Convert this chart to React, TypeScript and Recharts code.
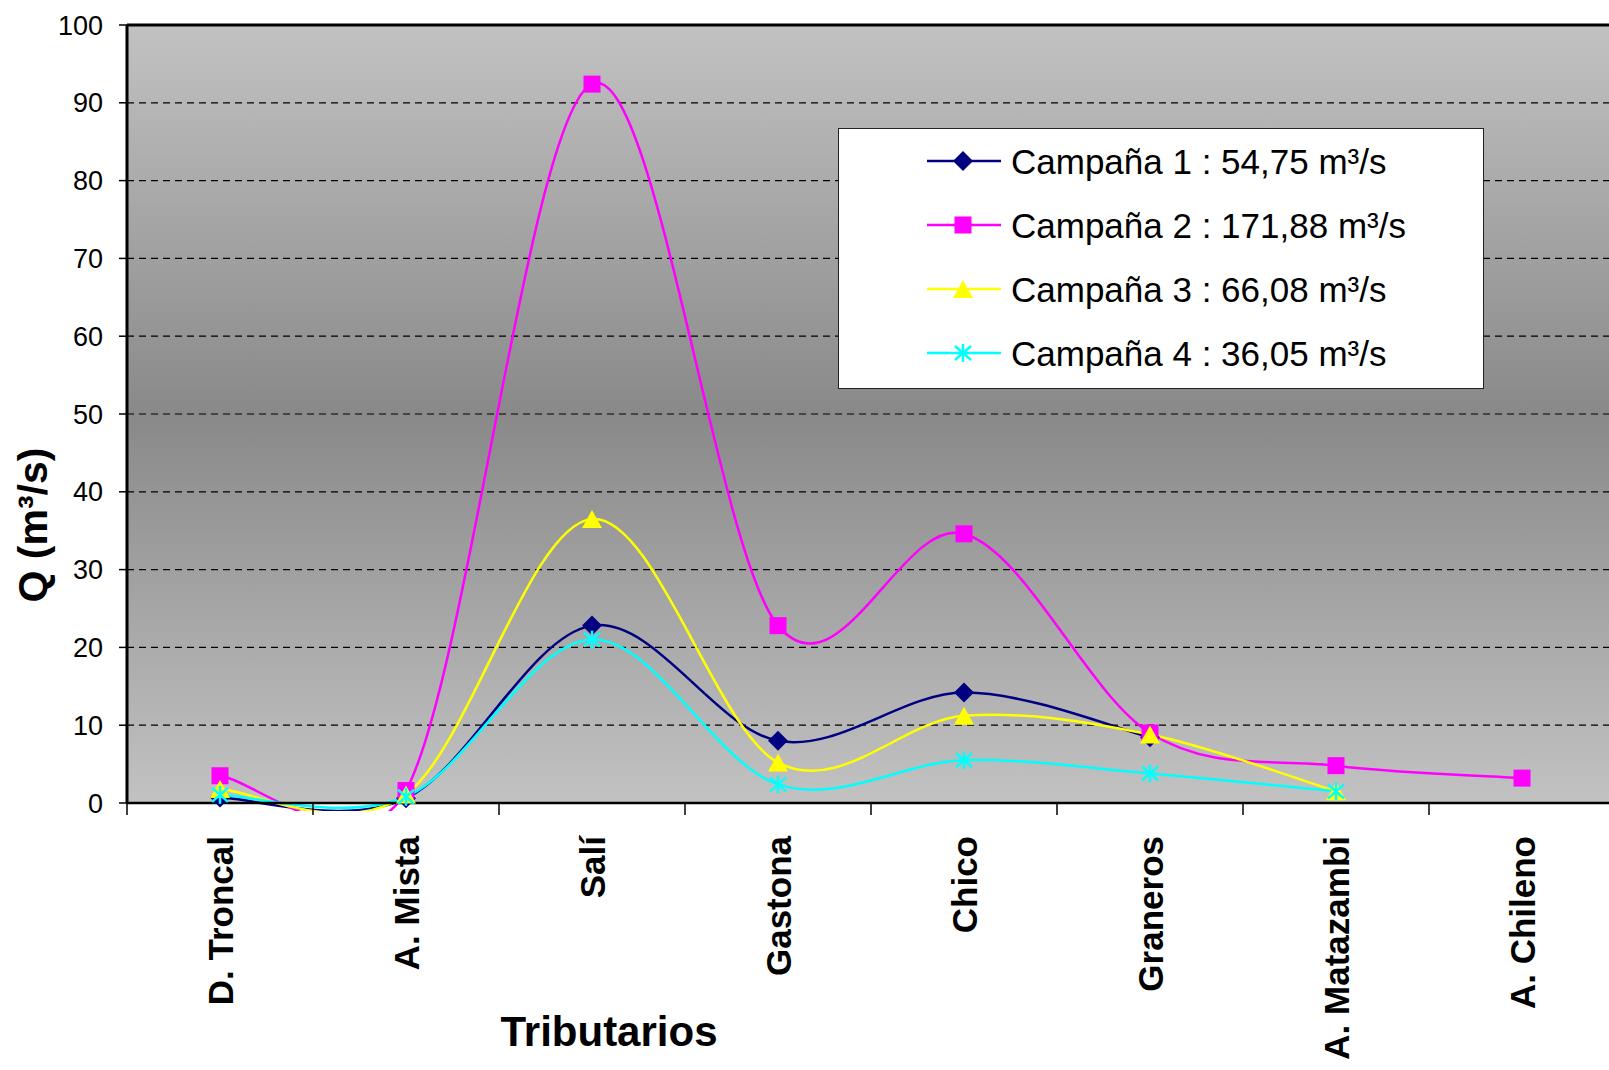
import React from "react";
import { LineChart, Line, XAxis, YAxis, CartesianGrid, ReferenceLine } from "recharts";

const tributarios = [
  "D. Troncal",
  "A. Mista",
  "Salí",
  "Gastona",
  "Chico",
  "Graneros",
  "A. Matazambi",
  "A. Chileno",
];

// caudal por campaña (m³/s); null = sin medición
const campana1 = [0.7, 0.6, 22.8, 8.0, 14.2, 8.45, null, null];
const campana2 = [3.5, 1.6, 92.4, 22.8, 34.6, 9.0, 4.8, 3.2];
const campana3 = [1.8, 1.1, 36.5, 5.2, 11.2, 8.8, 1.5, null];
const campana4 = [1.05, 0.8, 21.0, 2.4, 5.5, 3.8, 1.5, null];

const yTicks = [0, 10, 20, 30, 40, 50, 60, 70, 80, 90, 100];

const seriesNames = [
  "Campaña 1 : 54,75 m³/s",
  "Campaña 2 : 171,88 m³/s",
  "Campaña 3 : 66,08 m³/s",
  "Campaña 4 : 36,05 m³/s",
];

type Shape = "diamond" | "square" | "triangle" | "star";

const series: { key: string; color: string; shape: Shape }[] = [
  { key: "c1", color: "#000080", shape: "diamond" },
  { key: "c2", color: "#FF00FF", shape: "square" },
  { key: "c3", color: "#FFFF00", shape: "triangle" },
  { key: "c4", color: "#00FFFF", shape: "star" },
];

const data = tributarios.map((name, i) => ({
  name,
  c1: campana1[i],
  c2: campana2[i],
  c3: campana3[i],
  c4: campana4[i],
}));

const FONT = '"Liberation Sans", Arial, Helvetica, sans-serif';
const FRAME_W = 1609;
const FRAME_H = 1070;
const CHART_W = 1615; // plot runs a little past the right edge of the frame
const AXIS_W = 127;
const TOP = 25;
const X_AXIS_H = 267;
const PLOT_BOTTOM = FRAME_H - X_AXIS_H;
const HALF_BAND = (CHART_W - AXIS_W) / tributarios.length / 2;

// Excel-style smoothed line: bezier segments with 1/6 tangents,
// control arm capped at half the segment length to limit overshoot
function excelSmooth(context: any) {
  let pts: [number, number][] = [];
  const dist = (a: [number, number], b: [number, number]) => Math.hypot(a[0] - b[0], a[1] - b[1]);
  return {
    areaStart() {},
    areaEnd() {},
    lineStart() {
      pts = [];
    },
    point(x: number, y: number) {
      pts.push([+x, +y]);
    },
    lineEnd() {
      const n = pts.length;
      if (!n) return;
      context.moveTo(pts[0][0], pts[0][1]);
      for (let i = 0; i < n - 1; i++) {
        const p0 = pts[Math.max(i - 1, 0)];
        const p1 = pts[i];
        const p2 = pts[i + 1];
        const p3 = pts[Math.min(i + 2, n - 1)];
        const d12 = dist(p1, p2);
        const d02 = dist(p0, p2);
        const d13 = dist(p1, p3);
        const f1 = d02 / 6 < d12 / 2 ? 1 / 6 : d12 / (2 * d02);
        const f2 = d13 / 6 < d12 / 2 ? 1 / 6 : d12 / (2 * d13);
        context.bezierCurveTo(
          p1[0] + (p2[0] - p0[0]) * f1,
          p1[1] + (p2[1] - p0[1]) * f1,
          p2[0] - (p3[0] - p1[0]) * f2,
          p2[1] - (p3[1] - p1[1]) * f2,
          p2[0],
          p2[1]
        );
      }
    },
  };
}

function Marker({ shape, cx, cy, color }: { shape: Shape; cx: number; cy: number; color: string }) {
  switch (shape) {
    case "diamond":
      return <polygon points={`${cx},${cy - 10} ${cx + 10},${cy} ${cx},${cy + 10} ${cx - 10},${cy}`} fill={color} />;
    case "square":
      return <rect x={cx - 8.5} y={cy - 8.5} width={17} height={17} fill={color} />;
    case "triangle":
      return <polygon points={`${cx},${cy - 9} ${cx + 10},${cy + 9} ${cx - 10},${cy + 9}`} fill={color} />;
    default:
      return (
        <g stroke={color} strokeWidth={2.5}>
          <line x1={cx} y1={cy - 9} x2={cx} y2={cy + 9} />
          <line x1={cx - 8} y1={cy - 7} x2={cx + 8} y2={cy + 7} />
          <line x1={cx - 8} y1={cy + 7} x2={cx + 8} y2={cy - 7} />
        </g>
      );
  }
}

function TributarioTick(props: any) {
  const { x, y, payload } = props;
  const half = payload.offset || HALF_BAND;
  return (
    <g>
      <line x1={x - half} x2={x - half} y1={y} y2={y + 12} stroke="#000" strokeWidth={1.5} />
      <text
        transform={`translate(${x},${y + 33}) rotate(-90)`}
        textAnchor="end"
        dominantBaseline="central"
        fontSize={35}
        fontWeight="bold"
        fontFamily={FONT}
        fill="#000"
      >
        {payload.value}
      </text>
    </g>
  );
}

function Leyenda() {
  return (
    <div
      style={{
        position: "absolute",
        left: 838,
        top: 128,
        width: 646,
        height: 261,
        background: "#fff",
        border: "1.5px solid #222",
        boxSizing: "border-box",
      }}
    >
      {series.map((s, i) => (
        <div
          key={s.key}
          style={{
            position: "absolute",
            left: 88,
            top: i * 64,
            height: 64,
            display: "flex",
            alignItems: "center",
          }}
        >
          <svg width={74} height={24} style={{ display: "block" }}>
            <line x1={0} x2={74} y1={12} y2={12} stroke={s.color} strokeWidth={2.5} />
            <Marker shape={s.shape} cx={36} cy={12} color={s.color} />
          </svg>
          <span
            style={{
              marginLeft: 10,
              fontSize: 35,
              fontFamily: FONT,
              lineHeight: 1,
              whiteSpace: "nowrap",
              color: "#000",
            }}
          >
            {seriesNames[i]}
          </span>
        </div>
      ))}
    </div>
  );
}

export default function App() {
  return (
    <div
      style={{
        position: "absolute",
        left: 0,
        top: 0,
        width: FRAME_W,
        height: FRAME_H,
        overflow: "hidden",
        background: "#fff",
      }}
    >
      <style>{`.tributario-line .recharts-line-curve { clip-path: url(#bajoEje); }`}</style>
      <LineChart
        width={CHART_W}
        height={FRAME_H}
        data={data}
        margin={{ top: TOP, right: 0, bottom: 0, left: 0 }}
      >
        <defs>
          <linearGradient id="fondoPlot" x1="0" y1="0" x2="0" y2="1">
            <stop offset="0%" stopColor="#c2c2c2" />
            <stop offset="50%" stopColor="#898989" />
            <stop offset="100%" stopColor="#c2c2c2" />
          </linearGradient>
          <clipPath id="bajoEje">
            <rect x={0} y={0} width={CHART_W} height={PLOT_BOTTOM + 8} />
          </clipPath>
        </defs>
        <CartesianGrid
          vertical={false}
          fill="url(#fondoPlot)"
          fillOpacity={1}
          stroke="#000"
          strokeDasharray="7 5"
          strokeWidth={1.2}
        />
        <XAxis
          dataKey="name"
          scale="band"
          height={X_AXIS_H}
          interval={0}
          tickLine={false}
          tickSize={0}
          tickMargin={0}
          axisLine={{ stroke: "#000", strokeWidth: 2.5 }}
          tick={<TributarioTick />}
        />
        <YAxis
          width={AXIS_W}
          domain={[0, 100]}
          ticks={yTicks}
          interval={0}
          tickSize={8}
          tickMargin={16}
          tickLine={{ stroke: "#000", strokeWidth: 1.5 }}
          axisLine={{ stroke: "#000", strokeWidth: 3 }}
          tick={{ fill: "#000", fontSize: 27, fontFamily: FONT }}
        />
        <ReferenceLine y={100} stroke="#000" strokeWidth={3} />
        {series.map((s) => (
          <Line
            key={s.key}
            className="tributario-line"
            dataKey={s.key}
            type={excelSmooth as any}
            stroke={s.color}
            strokeWidth={2.5}
            activeDot={false}
            isAnimationActive={false}
            dot={(p: any) =>
              p.cy == null || p.value == null ? (
                <g key={`${s.key}-${p.index}`} />
              ) : (
                <Marker key={`${s.key}-${p.index}`} shape={s.shape} cx={p.cx} cy={p.cy} color={s.color} />
              )
            }
          />
        ))}
        <text
          transform="translate(47,525) rotate(-90)"
          textAnchor="middle"
          fontSize={41}
          fontWeight="bold"
          fontFamily={FONT}
          fill="#000"
        >
          Q (m³/s)
        </text>
        <text x={609} y={1046} textAnchor="middle" fontSize={42} fontWeight="bold" fontFamily={FONT} fill="#000">
          Tributarios
        </text>
      </LineChart>
      <Leyenda />
    </div>
  );
}
